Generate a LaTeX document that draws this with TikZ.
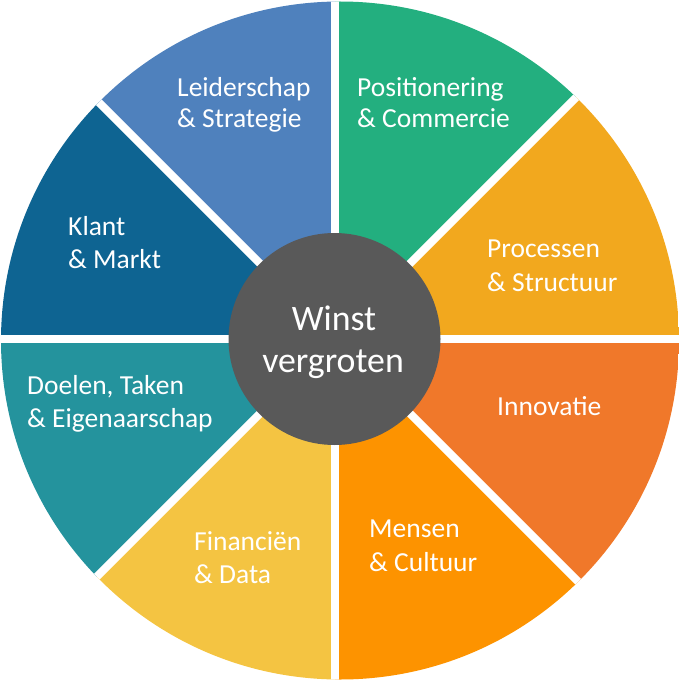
\documentclass[tikz,border=0pt]{standalone}
\usepackage{fontspec}
\setmainfont{Carlito}
\usetikzlibrary{calc}
\definecolor{cLead}{RGB}{79,129,189}
\definecolor{cPos}{RGB}{35,175,127}
\definecolor{cProc}{RGB}{242,168,30}
\definecolor{cInno}{RGB}{240,120,42}
\definecolor{cMens}{RGB}{253,147,0}
\definecolor{cFin}{RGB}{244,196,66}
\definecolor{cDoel}{RGB}{36,147,157}
\definecolor{cKlant}{RGB}{14,100,146}
\definecolor{cCore}{RGB}{89,89,89}
\begin{document}
\begin{tikzpicture}[x=1pt,y=-1pt,
  lbl/.style={text=white, font=\fontsize{27.5}{33}\selectfont, anchor=base west, inner sep=0pt},
  corelbl/.style={text=white, font=\fontsize{35.8}{42}\selectfont, anchor=base, inner sep=0pt},
  gapline/.style={white, line width=8pt},
  wedge/.style={fill=#1}]
\useasboundingbox (0,0) rectangle (678,682);
\coordinate (O) at (335,338.5);
\coordinate (P) at (340,340.5);
\begin{scope}
  \clip (P) circle[radius=339];
  \fill[wedge=cProc]  (O) -- +(-45:700)  -- +(-22.5:760)  -- +(0:700)    -- cycle;
  \fill[wedge=cPos]   (O) -- +(-90:700)  -- +(-67.5:760)  -- +(-45:700)  -- cycle;
  \fill[wedge=cLead]  (O) -- +(-135:700) -- +(-112.5:760) -- +(-90:700)  -- cycle;
  \fill[wedge=cKlant] (O) -- +(-180:700) -- +(-157.5:760) -- +(-135:700) -- cycle;
  \fill[wedge=cDoel]  (O) -- +(135:700)  -- +(157.5:760)  -- +(180:700)  -- cycle;
  \fill[wedge=cFin]   (O) -- +(90:700)   -- +(112.5:760)  -- +(135:700)  -- cycle;
  \fill[wedge=cMens]  (O) -- +(45:700)   -- +(67.5:760)   -- +(90:700)   -- cycle;
  \fill[wedge=cInno]  (O) -- +(0:700)    -- +(22.5:760)   -- +(45:700)   -- cycle;
  \foreach \a in {0,45,90,135}{
    \coordinate (g1) at ($(O)+(\a:400)$);
    \coordinate (g2) at ($(O)+(\a+180:400)$);
    \draw[gapline] (g1) -- (g2);
  }
\end{scope}
\node[circle, fill=cCore, minimum size=212pt, inner sep=0pt] (core) at (334.5,339) {};
\node[corelbl] (core1) at (334,330) {Winst};
\node[corelbl] (core2) at (333,372) {vergroten};
\node[lbl] (lead1) at (177,97) {Leiderschap};
\node[lbl] (lead2) at (177,128) {\& Strategie};
\node[lbl] (pos1) at (357,97) {Positionering};
\node[lbl] (pos2) at (357,128) {\& Commercie};
\node[lbl] (proc1) at (487,257) {Processen};
\node[lbl] (proc2) at (487,291) {\& Structuur};
\node[lbl] (inno1) at (497,415) {Innovatie};
\node[lbl] (mens1) at (369,537) {Mensen};
\node[lbl] (mens2) at (369,571) {\& Cultuur};
\node[lbl] (fin1) at (194,550) {Financiën};
\node[lbl] (fin2) at (194,583) {\& Data};
\node[lbl] (doel1) at (27,394) {Doelen, Taken};
\node[lbl] (doel2) at (27,427) {\& Eigenaarschap};
\node[lbl] (klant1) at (68,235) {Klant};
\node[lbl] (klant2) at (68,268) {\& Markt};
\end{tikzpicture}
\end{document}
